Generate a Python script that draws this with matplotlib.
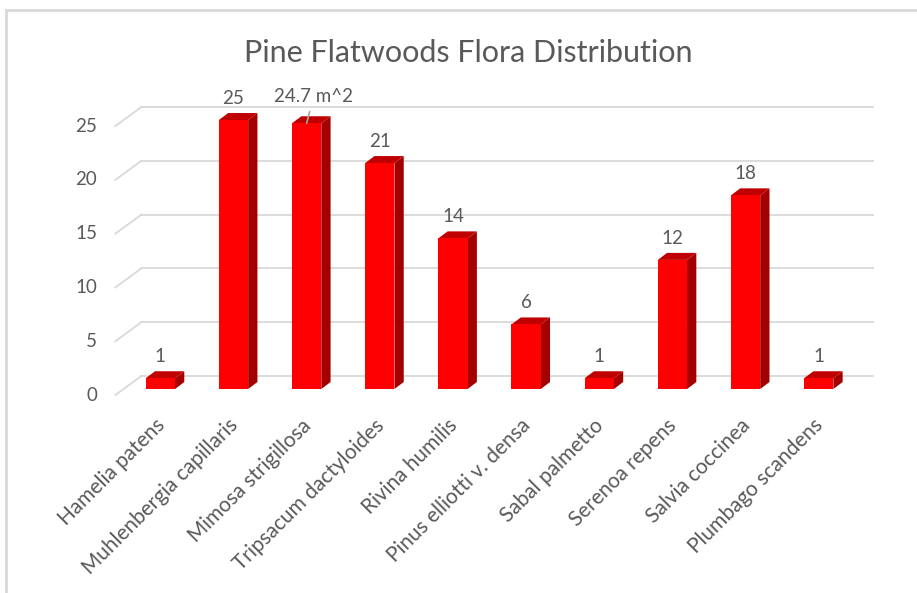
import numpy as np
import matplotlib.pyplot as plt

plt.rcParams['font.family'] = ['Lato', 'DejaVu Sans']

# Plant species counted in the pine flatwoods plot
species = ['Hamelia patens', 'Muhlenbergia capillaris', 'Mimosa strigillosa',
           'Tripsacum dactyloides', 'Rivina humilis', 'Pinus elliotti v. densa',
           'Sabal palmetto', 'Serenoa repens', 'Salvia coccinea', 'Plumbago scandens']
counts = [1, 25, 24.7, 21, 14, 6, 1, 12, 18, 1]
value_labels = ['1', '25', '24.7 m^2', '21', '14', '6', '1', '12', '18', '1']
yticks = [0, 5, 10, 15, 20, 25]

text_grey = '#595959'
grid_grey = '#d9d9d9'

fig = plt.figure(figsize=(9.17, 5.93), dpi=100)
ax = fig.add_axes([0.135, 0.344, 0.7977, 0.4536])
ax.set_xlim(-0.5, len(species) - 0.5)
ax.set_ylim(0, 25)
ax.axis('off')

# fake 3D: depth offsets expressed in data units
bar_w = 0.40
dep_x, dep_y = 0.127, 0.65      # bar depth
back_x, back_y = 0.24, 1.21     # back wall
front_x, front_y = -0.115, -0.56  # front edge of the floor

x = np.arange(len(species))
x0, x1 = x[0] - 0.5, x[-1] + 0.5

# back wall gridlines, left wall diagonals and the value axis labels
for v in yticks:
    ax.plot([x0 + back_x, x1 + back_x], [v + back_y, v + back_y],
            color=grid_grey, lw=1.3, clip_on=False, zorder=1)
    ax.plot([x0 + front_x, x0 + back_x], [v + front_y, v + back_y],
            color=grid_grey, lw=1.3, clip_on=False, zorder=1)
    ax.annotate(str(v), (x0 + front_x, v + front_y), xytext=(-13, 0),
                textcoords='offset points', ha='right', va='center',
                fontsize=13.5, color=text_grey, annotation_clip=False)

# columns: front face, side face, top face
for xi, v in zip(x, counts):
    l, r = xi - bar_w / 2, xi + bar_w / 2
    ax.bar(xi, v, width=bar_w, color='#ff0000', zorder=3, clip_on=False)
    side = plt.Polygon([(r, 0), (r + dep_x, dep_y), (r + dep_x, v + dep_y), (r, v)],
                       closed=True, facecolor='#a50000', edgecolor='none',
                       zorder=2, clip_on=False)
    top = plt.Polygon([(l, v), (r, v), (r + dep_x, v + dep_y), (l + dep_x, v + dep_y)],
                      closed=True, facecolor='#c00000', edgecolor='none',
                      zorder=2, clip_on=False)
    ax.add_patch(side)
    ax.add_patch(top)

# value labels above the columns
for xi, v, lab in zip(x, counts, value_labels):
    if lab == '24.7 m^2':
        ax.annotate(lab, (xi, v), xytext=(5, 19.5), textcoords='offset points',
                    ha='center', va='center', fontsize=13.5, color=text_grey,
                    annotation_clip=False,
                    arrowprops=dict(arrowstyle='-', color='#a6a6a6', lw=1.2,
                                    shrinkA=3, shrinkB=0))
    else:
        ax.annotate(lab, (xi, v), xytext=(0, 15.5), textcoords='offset points',
                    ha='center', va='center', fontsize=13.5, color=text_grey,
                    annotation_clip=False)

# category labels
for xi, name in zip(x, species):
    ax.annotate(name, (xi, 0), xytext=(1, -24), textcoords='offset points',
                rotation=45, rotation_mode='anchor', ha='right', va='center',
                fontsize=15, color=text_grey, annotation_clip=False)

fig.text(0.511, 0.91, 'Pine Flatwoods Flora Distribution', ha='center', va='center',
         fontsize=22, color=text_grey)

# chart area border (left and top edges)
fig.add_artist(plt.Line2D([0.007, 0.007], [0.0, 0.983], color=grid_grey, lw=2))
fig.add_artist(plt.Line2D([0.007, 1.0], [0.983, 0.983], color=grid_grey, lw=2))

fig.savefig('out.png', dpi=100)
